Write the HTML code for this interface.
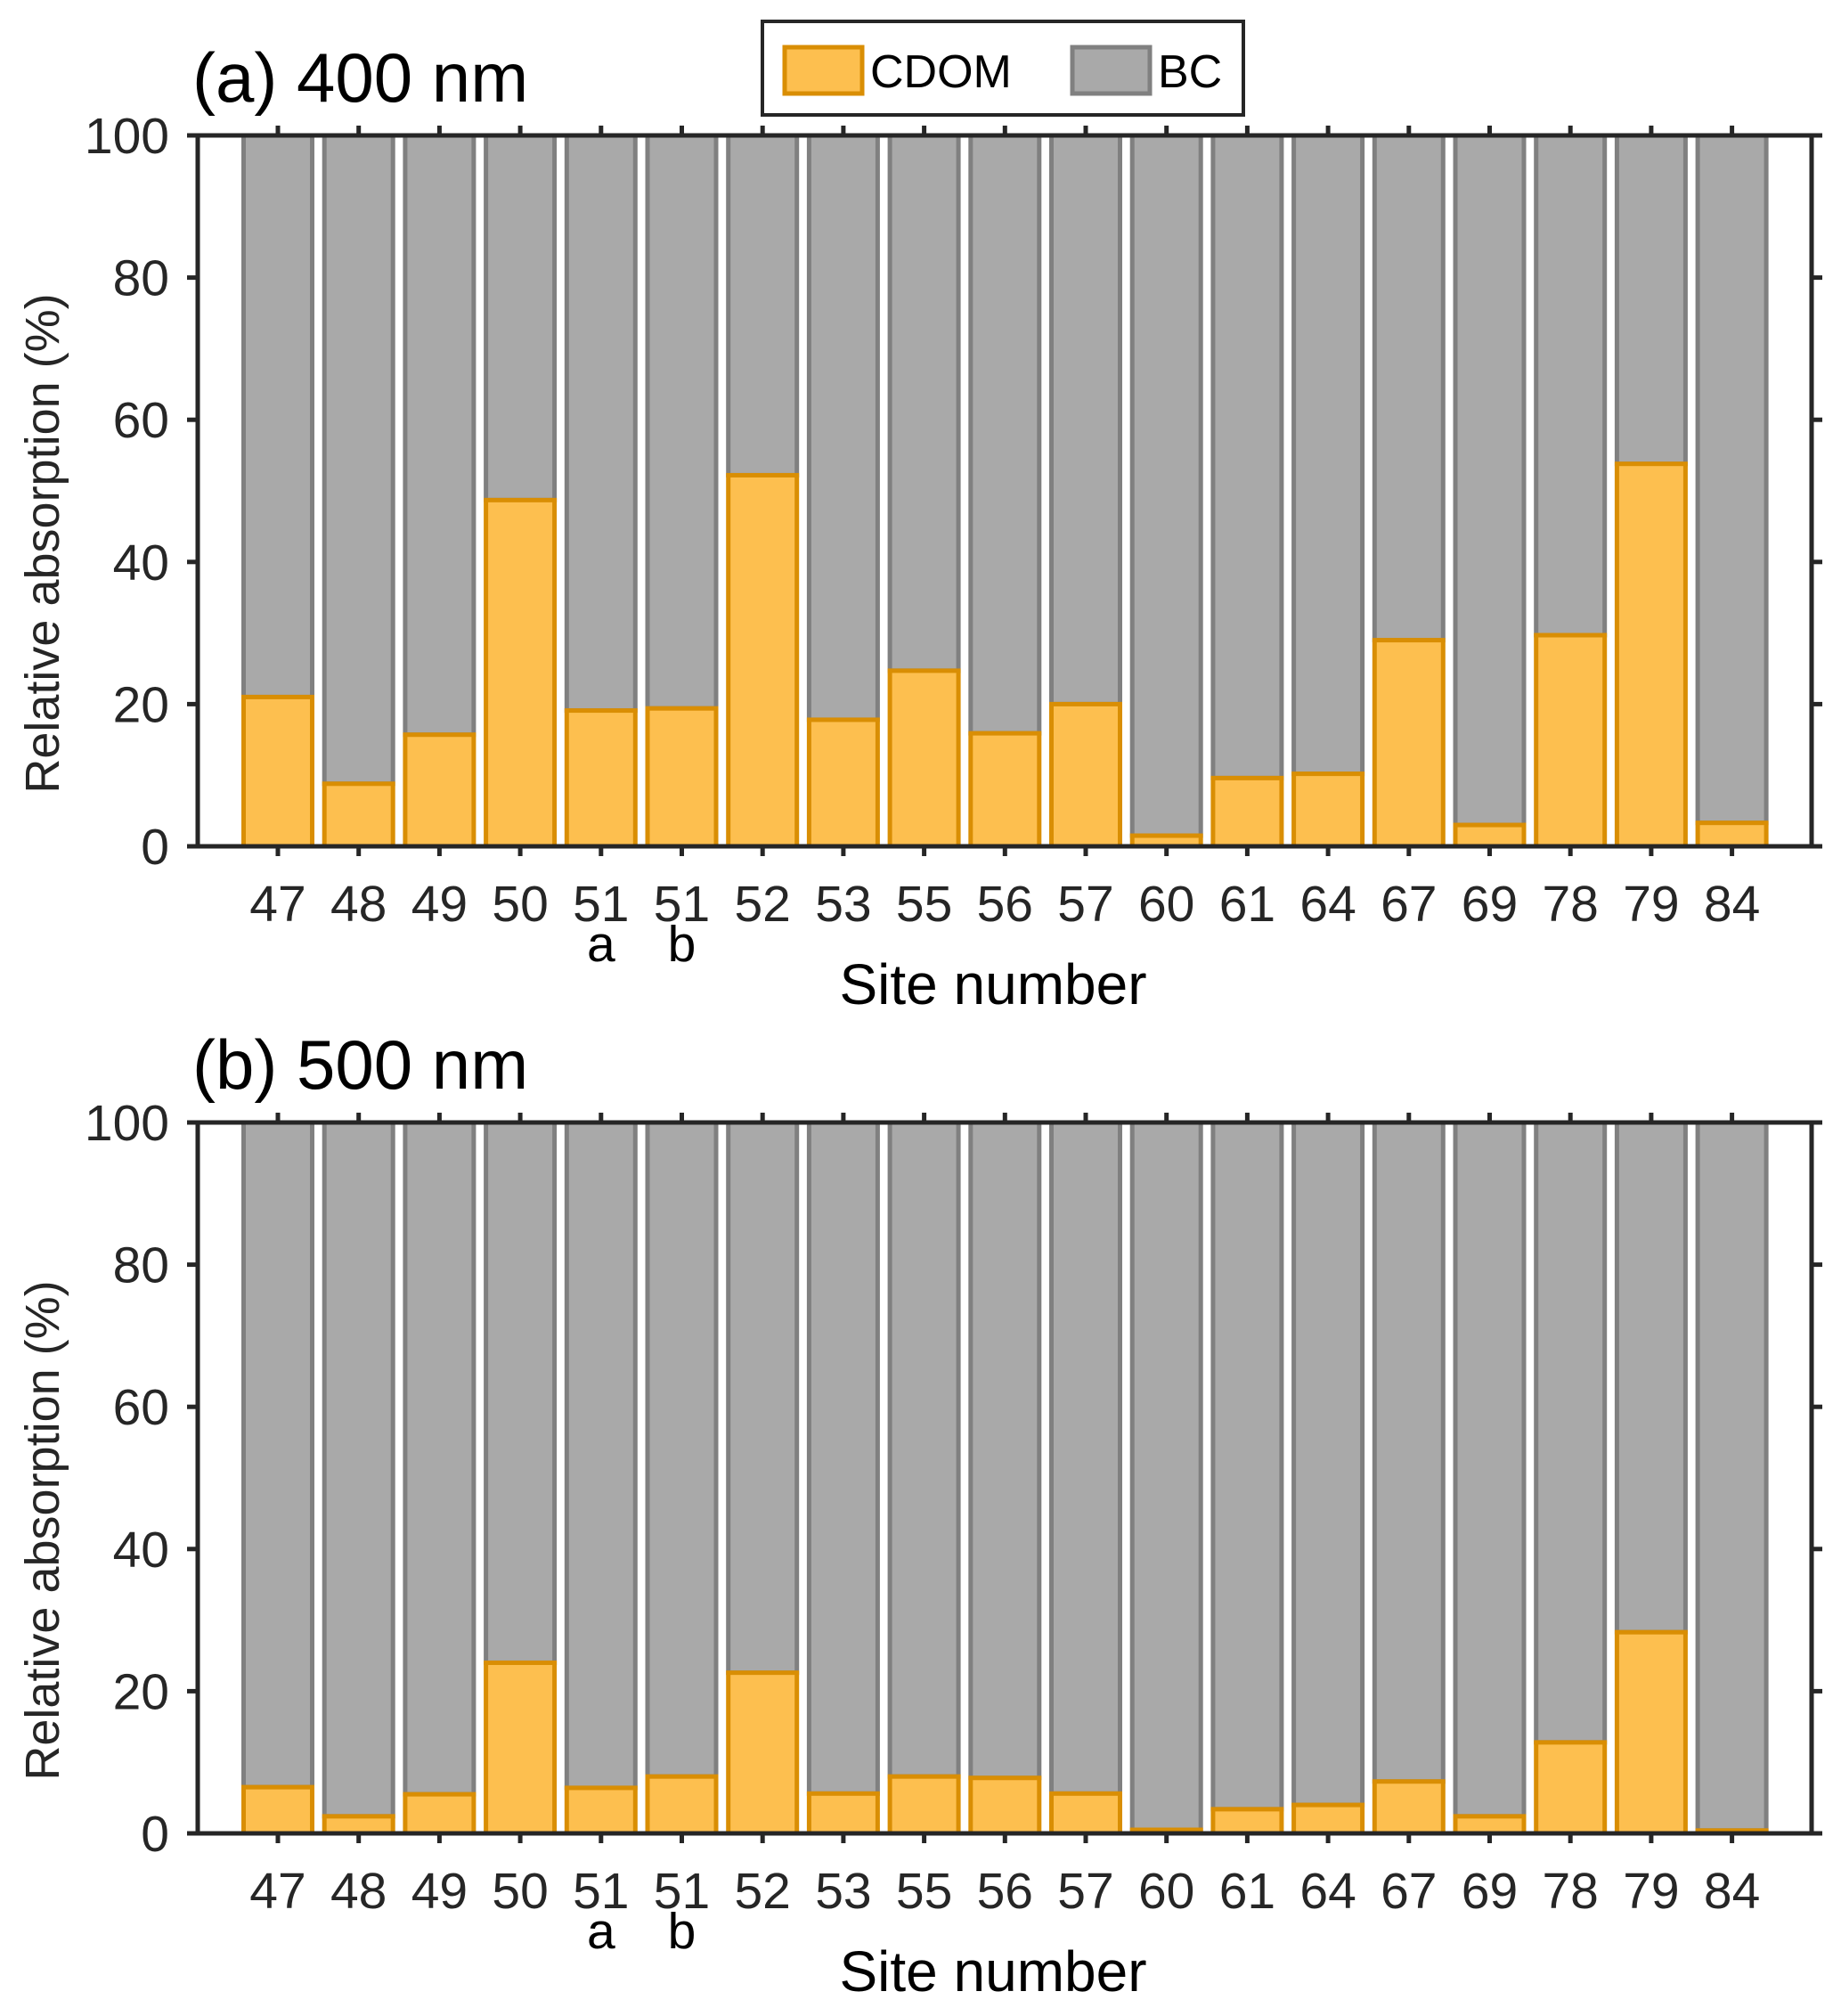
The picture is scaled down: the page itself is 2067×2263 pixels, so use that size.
<!DOCTYPE html>
<html><head><meta charset="utf-8"><style>
html,body{margin:0;padding:0;background:#fff;}
svg{display:block;font-family:"Liberation Sans",Arial,sans-serif;}
</style></head><body>
<svg id="chart" width="2067" height="2263" viewBox="0 0 2067 2263" xmlns="http://www.w3.org/2000/svg">
<g>
<rect x="856" y="24" width="540" height="105" fill="#fff" stroke="#262626" stroke-width="4"/>
<rect x="881" y="53" width="87" height="52" fill="#fdbf4f" stroke="#d98e04" stroke-width="5"/>
<text x="977" y="98" font-size="52" fill="#000">CDOM</text>
<rect x="1204" y="53" width="87" height="52" fill="#a9a9a9" stroke="#808080" stroke-width="5"/>
<text x="1300" y="98" font-size="52" fill="#000">BC</text>
</g>
</svg>
<script>
const categories=["47","48","49","50","51","51","52","53","55","56","57","60","61","64","67","69","78","79","84"];
const subLabels=["","","","","a","b","","","","","","","","","","","","",""];
const cdom400=[21,8.8,15.7,48.7,19.1,19.4,52.2,17.8,24.7,15.9,20,1.5,9.6,10.2,29,3,29.7,53.8,3.3];
const cdom500=[6.5,2.4,5.5,24,6.4,8,22.6,5.6,8,7.8,5.6,0.5,3.4,4,7.3,2.4,12.8,28.3,0.4];
const yTicks=[0,20,40,60,80,100];
const panelTitles=["(a) 400 nm","(b) 500 nm"];

const NS="http://www.w3.org/2000/svg";
const svg=document.getElementById('chart');
function mk(tag,attrs,parent){const e=document.createElementNS(NS,tag);for(const k in attrs)e.setAttribute(k,attrs[k]);parent.appendChild(e);return e;}
const L=222,R=2034,X0=312,DX=90.7,BW=77;
function xs(i){return X0+i*DX;}
function drawPanel(top,bottom,vals,title,idx){
  const g=mk('g',{},svg);
  
  
  const ys=v=>bottom-(v/100)*(bottom-top);
  vals.forEach((v,i)=>{
    const x=xs(i)-BW/2;
    const bc=mk('rect',{x:x,y:top,width:BW,height:ys(v)-top,fill:'#a9a9a9',stroke:'#808080','stroke-width':5},g);
    
    
    const cd=mk('rect',{x:x,y:ys(v),width:BW,height:bottom-ys(v),fill:'#fdbf4f',stroke:'#d98e04','stroke-width':5},g);
    
    
  });
  const ax=mk('g',{stroke:'#262626','stroke-width':5,fill:'none'},g);
  
  
  mk('line',{x1:L,y1:top,x2:L,y2:bottom},ax);
  mk('line',{x1:R,y1:top,x2:R,y2:bottom},ax);
  mk('line',{x1:L-2,y1:bottom,x2:R+2,y2:bottom},ax);
  mk('line',{x1:L-2,y1:top,x2:R+2,y2:top},ax);
  yTicks.forEach(t=>{
    const y=ys(t);
    mk('line',{x1:L-12,y1:y,x2:L,y2:y},ax);
    mk('line',{x1:R,y1:y,x2:R+12,y2:y},ax);
    const tx=mk('text',{x:190,y:y+20,'font-size':57,fill:'#262626','text-anchor':'end'},g);
    tx.textContent=t;
    
    
  });
  categories.forEach((c,i)=>{
    const x=xs(i);
    mk('line',{x1:x,y1:bottom,x2:x,y2:bottom+11},ax);
    mk('line',{x1:x,y1:top-11,x2:x,y2:top},ax);
    const tx=mk('text',{x:x,y:bottom+84,'font-size':57,fill:'#262626','text-anchor':'middle'},g);
    tx.textContent=c;
    
    
    if(subLabels[i]){
      const s=mk('text',{x:x,y:bottom+129,'font-size':57,fill:'#000','text-anchor':'middle'},g);
      s.textContent=subLabels[i];
      
      
    }
  });
  const xt=mk('text',{x:1115,y:bottom+177,'font-size':64,fill:'#000','text-anchor':'middle'},g);
  xt.textContent='Site number';
  
  
  const cy=top+458;
  const yt=mk('text',{x:0,y:0,'font-size':54,fill:'#262626','text-anchor':'middle',transform:'translate(66,'+cy+') rotate(-90)'},g);
  yt.textContent='Relative absorption (%)';
  
  
  const tt=mk('text',{x:216,y:top-38,'font-size':78,fill:'#000'},g);
  tt.textContent=title;
  
  
}
drawPanel(152,950,cdom400,panelTitles[0],0);
drawPanel(1260,2058,cdom500,panelTitles[1],1);
</script>
</body></html>
